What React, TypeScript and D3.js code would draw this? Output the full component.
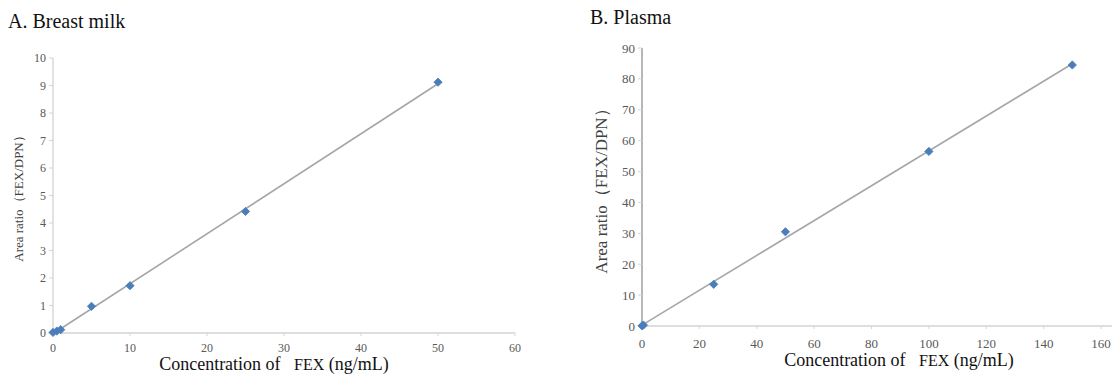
import React from "react";
import * as d3 from "d3";

// Breast milk calibration points
const milkConc = [0, 0.5, 1, 5, 10, 25, 50];
const milkRatio = [0.02, 0.07, 0.12, 0.97, 1.72, 4.42, 9.12];
const milkXTicks = [0, 10, 20, 30, 40, 50, 60];
const milkYTicks = [0, 1, 2, 3, 4, 5, 6, 7, 8, 9, 10];

// Plasma calibration points
const plasmaConc = [0, 0.5, 25, 50, 100, 150];
const plasmaRatio = [0.05, 0.3, 13.5, 30.5, 56.5, 84.5];
const plasmaXTicks = [0, 20, 40, 60, 80, 100, 120, 140, 160];
const plasmaYTicks = [0, 10, 20, 30, 40, 50, 60, 70, 80, 90];

const SERIF = "Liberation Serif";
const BLUE = "#4a7ebb";

// least squares fit
function fit(xs: number[], ys: number[]) {
  const mx = d3.mean(xs) as number;
  const my = d3.mean(ys) as number;
  let num = 0;
  let den = 0;
  xs.forEach((x, i) => {
    num += (x - mx) * (ys[i] - my);
    den += (x - mx) * (x - mx);
  });
  const b = num / den;
  return { b, a: my - b * mx };
}

type PanelProps = {
  title: string;
  titleX: number;
  titleY: number;
  xs: number[];
  ys: number[];
  xTicks: number[];
  yTicks: number[];
  x0: number;
  x1: number;
  axisEnd: number;
  y0: number;
  y1: number;
  tickFont: number;
  yTitleX: number;
  yTitleSize: number;
  xTitleY: number;
  xTitleSize: number;
  xTitleX: number;
  xLabelY: number;
  yAxisColor: string;
};

const Panel = (p: PanelProps) => {
  const x = d3
    .scaleLinear()
    .domain([p.xTicks[0], p.xTicks[p.xTicks.length - 1]])
    .range([p.x0, p.x1]);
  const y = d3
    .scaleLinear()
    .domain([p.yTicks[0], p.yTicks[p.yTicks.length - 1]])
    .range([p.y0, p.y1]);
  const { a, b } = fit(p.xs, p.ys);
  const xMax = d3.max(p.xs) as number;
  const line = d3
    .line<number>()
    .x((d) => x(d))
    .y((d) => y(a + b * d));
  const marker = d3.symbol().type(d3.symbolSquare).size(34)();
  const yMid = (p.y0 + p.y1) / 2;

  return (
    <g>
      <text x={p.titleX} y={p.titleY} fontFamily={SERIF} fontSize={20} fill="#111">
        {p.title}
      </text>

      {/* axes */}
      <line x1={p.x0} x2={p.x0} y1={p.y0} y2={p.y1} stroke={p.yAxisColor} strokeWidth={1.2} />
      <line x1={p.x0} x2={p.axisEnd} y1={p.y0} y2={p.y0} stroke="#bdbdbd" strokeWidth={1.2} />

      {p.yTicks.map((t) => (
        <g key={"y" + t}>
          <line x1={p.x0 - 4} x2={p.x0} y1={y(t)} y2={y(t)} stroke="#d6d6d6" />
          <text
            x={p.x0 - 7}
            y={y(t)}
            dy="0.35em"
            textAnchor="end"
            fontFamily={SERIF}
            fontSize={p.tickFont}
            fill="#595959"
          >
            {t}
          </text>
        </g>
      ))}
      {p.xTicks.map((t) => (
        <g key={"x" + t}>
          <line x1={x(t)} x2={x(t)} y1={p.y0} y2={p.y0 + 3} stroke="#d6d6d6" />
          <text
            x={x(t)}
            y={p.xLabelY}
            textAnchor="middle"
            fontFamily={SERIF}
            fontSize={p.tickFont}
            fill="#595959"
          >
            {t}
          </text>
        </g>
      ))}

      {/* regression line */}
      <path d={line([0, xMax]) as string} stroke="#a6a6a6" strokeWidth={1.6} fill="none" />

      {/* points */}
      {p.xs.map((v, i) => (
        <path
          key={"pt" + i}
          d={marker as string}
          transform={`translate(${x(v)},${y(p.ys[i])}) rotate(45)`}
          fill={BLUE}
          stroke={BLUE}
          strokeWidth={0.8}
        />
      ))}

      {/* axis titles */}
      <text
        transform={`translate(${p.yTitleX},${yMid}) rotate(-90)`}
        textAnchor="middle"
        fontFamily={SERIF}
        fontSize={p.yTitleSize}
        fill="#404040"
      >
        Area ratio（FEX/DPN）
      </text>
      <text
        x={p.xTitleX}
        y={p.xTitleY}
        textAnchor="middle"
        fontFamily={SERIF}
        fontSize={p.xTitleSize}
        fill="#111"
      >
        Concentration of{"\u00a0\u00a0\u00a0"}
        <tspan fontFamily={SERIF} fontSize={p.xTitleSize - 2}>
          FEX
        </tspan>
        <tspan fontFamily={SERIF}> (ng/mL)</tspan>
      </text>
    </g>
  );
};

export default function App() {
  return (
    <svg width={1118} height={376} style={{ position: "fixed", left: 0, top: 0, background: "#fff" }}>
      <rect width={1118} height={376} fill="#fff" />
      <Panel
        title="A. Breast milk"
        titleX={8}
        titleY={28}
        xs={milkConc}
        ys={milkRatio}
        xTicks={milkXTicks}
        yTicks={milkYTicks}
        x0={53}
        x1={515}
        axisEnd={515}
        y0={333}
        y1={58}
        tickFont={12}
        yTitleX={23}
        yTitleSize={13}
        xTitleY={370}
        xTitleSize={18}
        xTitleX={274}
        xLabelY={352}
        yAxisColor="#cfcfcf"
      />
      <Panel
        title="B. Plasma"
        titleX={590}
        titleY={24}
        xs={plasmaConc}
        ys={plasmaRatio}
        xTicks={plasmaXTicks}
        yTicks={plasmaYTicks}
        x0={642}
        x1={1101}
        axisEnd={1112}
        y0={326}
        y1={48}
        tickFont={13}
        yTitleX={607}
        yTitleSize={17}
        xTitleY={366}
        xTitleSize={18}
        xTitleX={899}
        xLabelY={348}
        yAxisColor="#8c8680"
      />
    </svg>
  );
}
